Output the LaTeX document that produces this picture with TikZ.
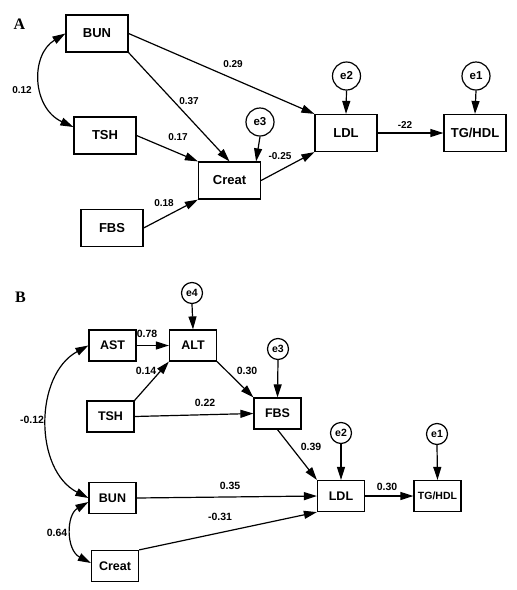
\documentclass[tikz,border=0pt]{standalone}
\usepackage{fontspec}
\setmainfont{Liberation Sans}
\newfontfamily\serifbold{Liberation Serif}
\usetikzlibrary{arrows.meta}
\begin{document}
\begin{tikzpicture}[x=1pt,y=-1pt,
  boxA/.style={draw, line width=1.2pt, minimum width=62pt, minimum height=37pt, inner sep=0pt, font=\bfseries\fontsize{13}{13}\selectfont},
  boxB/.style={draw, line width=1.2pt, minimum width=47pt, minimum height=31pt, inner sep=0pt, font=\bfseries\fontsize{12.5}{12.5}\selectfont},
  errA/.style={draw, circle, line width=1.2pt, minimum size=28pt, inner sep=0pt, font=\bfseries\fontsize{11.5}{11.5}\selectfont},
  errB/.style={draw, circle, line width=1.2pt, minimum size=21pt, inner sep=0pt, font=\bfseries\fontsize{10.5}{10.5}\selectfont},
  coefA/.style={font=\bfseries\fontsize{10}{10}\selectfont, inner sep=0pt},
  coefB/.style={font=\bfseries\fontsize{10.5}{10.5}\selectfont, inner sep=0pt},
  arr/.style={line width=1.2pt, -{Triangle[length=13pt,width=8pt]}},
  darr/.style={line width=1.2pt, {Triangle[length=13pt,width=8pt]}-{Triangle[length=13pt,width=8pt]}},
  panel/.style={font=\serifbold\bfseries\fontsize{16}{16}\selectfont, inner sep=0pt}
]
\useasboundingbox (0,0) rectangle (517,590);

% ---------- Panel A ----------
\node[panel] (labA) at (19.5,24) {A};
\node[boxA] (BUNa) at (97,33.5) {BUN};
\node[boxA] (TSHa) at (105,135.5) {TSH};
\node[boxA] (Creata) at (229.5,180.5) {Creat};
\node[boxA] (FBSa) at (112,228) {FBS};
\node[boxA] (LDLa) at (346,133) {LDL};
\node[boxA] (TGa) at (475,133) {TG/HDL};
\node[errA] (e2a) at (346.5,76) {e2};
\node[errA] (e1a) at (476,76) {e1};
\node[errA] (e3a) at (260,122) {e3};

\draw[darr] (BUNa.west) .. controls (30,55) and (32,108) .. ([yshift=8.5pt]TSHa.west);
\draw[arr] (BUNa.east) -- (LDLa.north west);
\draw[arr] (BUNa.south east) -- (Creata.north);
\draw[arr] (TSHa.east) -- (Creata.north west);
\draw[arr] (FBSa.east) -- (Creata.south west);
\draw[arr] (e3a.south) -- ([xshift=-5pt]Creata.north east);
\draw[arr] (Creata.east) -- (LDLa.south west);
\draw[arr] (e2a.south) -- (LDLa.north);
\draw[arr] (LDLa.east) -- (TGa.west);
\draw[arr] (e1a.south) -- (TGa.north);

\node[coefA] (c012) at (22,90) {0.12};
\node[coefA] (c029) at (233,64) {0.29};
\node[coefA] (c037) at (189,101) {0.37};
\node[coefA] (c017) at (178,137) {0.17};
\node[coefA] (c018) at (164,203) {0.18};
\node[coefA] (c025) at (280,156.5) {-0.25};
\node[coefA] (c22) at (405,125) {-22};

% ---------- Panel B ----------
\node[panel] (labB) at (20.5,297.5) {B};
\node[errB] (e4b) at (192,293) {e4};
\node[boxB] (ASTb) at (112.5,345.5) {AST};
\node[boxB] (ALTb) at (193,345.5) {ALT};
\node[boxB] (TSHb) at (110.5,416.5) {TSH};
\node[boxB] (BUNb) at (112.5,498) {BUN};
\node[boxB] (Creatb) at (115,566) {Creat};
\node[boxB] (FBSb) at (277.5,413.5) {FBS};
\node[errB] (e3b) at (278,349) {e3};
\node[boxB] (LDLb) at (341,496) {LDL};
\node[errB] (e2b) at (341,433) {e2};
\node[boxB, font=\bfseries\fontsize{10.5}{10.5}\selectfont] (TGb) at (437.5,496) {TG/HDL};
\node[errB] (e1b) at (437,434) {e1};

\draw[arr] (e4b.south) -- (ALTb.north);
\draw[arr] (ASTb.east) -- (ALTb.west);
\draw[arr] (TSHb.north east) -- (ALTb.south west);
\draw[arr] (ALTb.south east) -- (FBSb.north west);
\draw[arr] (TSHb.east) -- (FBSb.west);
\draw[arr] (e3b.south) -- (FBSb.north);
\draw[arr] (FBSb.south) -- (LDLb.north west);
\draw[arr] (BUNb.east) -- (LDLb.west);
\draw[arr] (Creatb.north east) -- (LDLb.south west);
\draw[arr] (e2b.south) -- (LDLb.north);
\draw[arr] (LDLb.east) -- (TGb.west);
\draw[arr] (e1b.south) -- (TGb.north);
\draw[darr] (ASTb.west) .. controls (34,375) and (34,470) .. (BUNb.west);
\draw[darr] ([yshift=-4pt]BUNb.west) .. controls (66,515) and (66,550) .. ([yshift=3pt]Creatb.west);

\node[coefB] (b078) at (147,334) {0.78};
\node[coefB] (b014) at (146,371) {0.14};
\node[coefB] (b030a) at (247,371) {0.30};
\node[coefB] (b022) at (205,403) {0.22};
\node[coefB] (b012) at (32,420) {-0.12};
\node[coefB] (b035) at (230,486) {0.35};
\node[coefB] (b031) at (220,517) {-0.31};
\node[coefB] (b064) at (57,533) {0.64};
\node[coefB] (b039) at (311,447) {0.39};
\node[coefB] (b030b) at (387,487) {0.30};
\end{tikzpicture}
\end{document}
